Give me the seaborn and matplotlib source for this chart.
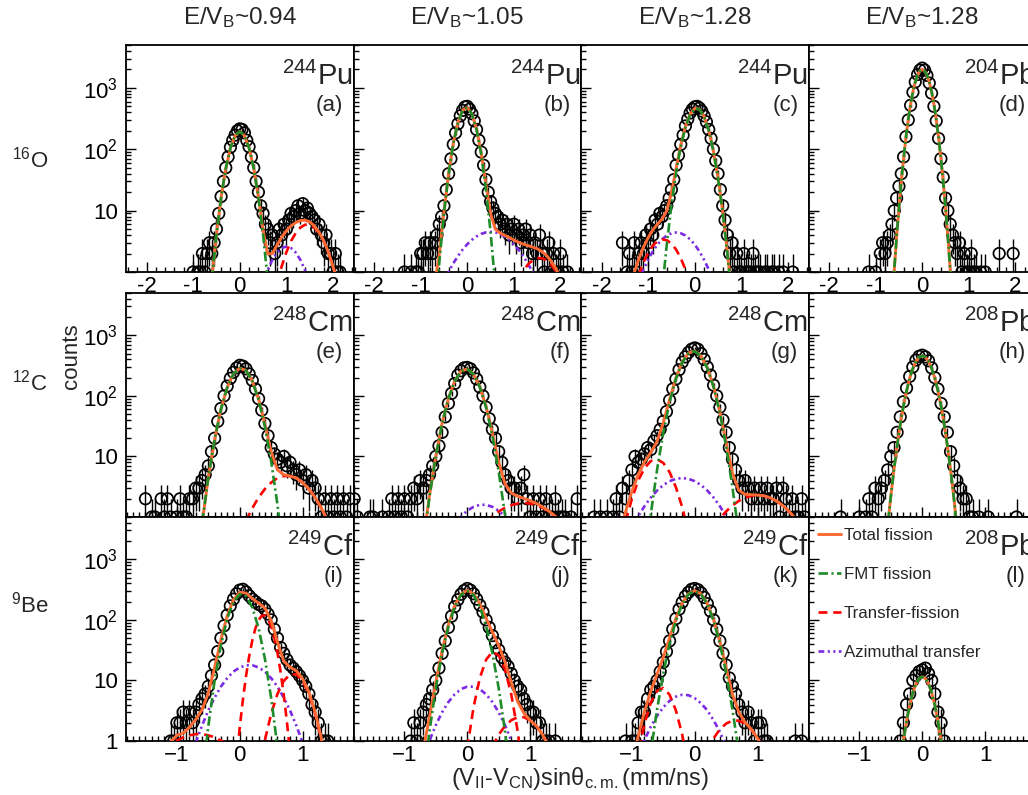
import numpy as np
import matplotlib
matplotlib.use("Agg")
import matplotlib.pyplot as plt
import seaborn as sns
from matplotlib.lines import Line2D
from matplotlib.ticker import FixedLocator, MultipleLocator, LogLocator, NullFormatter, FixedFormatter

# ---------------------------------------------------------------- data
# common velocity bins (mm/ns)
X_BINS = [-1.80, -1.75, -1.70, -1.65, -1.60, -1.55, -1.50, -1.45, -1.40, -1.35,
          -1.30, -1.25, -1.20, -1.15, -1.10, -1.05, -1.00, -0.95, -0.90, -0.85,
          -0.80, -0.75, -0.70, -0.65, -0.60, -0.55, -0.50, -0.45, -0.40, -0.35,
          -0.30, -0.25, -0.20, -0.15, -0.10, -0.05, 0.00, 0.05, 0.10, 0.15,
          0.20, 0.25, 0.30, 0.35, 0.40, 0.45, 0.50, 0.55, 0.60, 0.65,
          0.70, 0.75, 0.80, 0.85, 0.90, 0.95, 1.00, 1.05, 1.10, 1.15,
          1.20, 1.25, 1.30, 1.35, 1.40, 1.45, 1.50, 1.55, 1.60, 1.65,
          1.70, 1.75, 1.80, 1.85, 1.90, 1.95, 2.00, 2.05, 2.10, 2.15,
          2.20]

COUNTS_A = [0, 0, 0, 0, 0, 0, 0, 0, 0, 0,
            0, 0, 0, 0, 0, 0, 1, 0, 1, 1,
            2, 1, 2, 3, 2, 3, 5, 9, 17, 30,
            50, 75, 108, 140, 170, 200, 215, 210, 185, 140,
            110, 75, 50, 30, 20, 12, 9, 6, 5, 3,
            4, 2, 3, 5, 4, 6, 5, 7, 9, 8,
            10, 12, 9, 13, 10, 11, 9, 8, 7, 5,
            6, 4, 3, 4, 2, 2, 1, 2, 1, 1,
            0]
COUNTS_B = [0, 0, 0, 0, 0, 0, 0, 0, 0, 1,
            0, 0, 1, 0, 1, 1, 2, 2, 3, 2,
            3, 2, 3, 4, 6, 8, 12, 22, 40, 70,
            120, 185, 260, 350, 430, 490, 500, 450, 380, 290,
            210, 140, 90, 55, 32, 20, 14, 11, 9, 8,
            6, 7, 5, 6, 4, 5, 6, 4, 5, 3,
            4, 5, 3, 4, 2, 3, 2, 4, 2, 1,
            2, 3, 1, 2, 1, 1, 2, 1, 0, 1,
            0]
COUNTS_C = [0, 0, 0, 0, 0, 3, 0, 1, 2, 1,
            3, 1, 2, 3, 2, 4, 3, 5, 4, 7,
            6, 9, 8, 10, 12, 16, 22, 32, 55, 80,
            120, 170, 240, 310, 390, 450, 490, 500, 470, 420,
            350, 280, 210, 150, 100, 65, 40, 22, 12, 7,
            4, 2, 3, 1, 2, 1, 1, 2, 1, 1,
            1, 2, 1, 1, 1, 0, 1, 1, 0, 1,
            1, 0, 1, 0, 1, 0, 0, 0, 1, 0,
            0]
COUNTS_D = [0, 0, 0, 0, 0, 0, 0, 0, 0, 0,
            0, 0, 0, 1, 0, 0, 1, 0, 2, 3,
            2, 3, 4, 6, 10, 16, 25, 40, 75, 160,
            300, 520, 850, 1250, 1650, 1950, 2100, 1950, 1600, 1200,
            820, 500, 290, 150, 70, 35, 16, 10, 6, 4,
            3, 2, 3, 1, 2, 1, 1, 2, 1, 1,
            0, 1, 0, 1, 0, 0, 0, 0, 0, 2,
            0, 0, 0, 0, 0, 2, 0, 0, 0, 0,
            0]
COUNTS_E = [0, 0, 0, 0, 0, 0, 2, 0, 1, 1,
            0, 2, 1, 2, 1, 0, 1, 2, 1, 1,
            2, 2, 3, 3, 4, 5, 7, 12, 20, 38,
            62, 100, 145, 195, 245, 290, 320, 310, 280, 230,
            180, 130, 90, 58, 35, 22, 14, 11, 9, 8,
            10, 7, 8, 6, 5, 6, 4, 5, 3, 4,
            3, 2, 1, 2, 1, 2, 1, 2, 1, 2,
            1, 2, 0, 0, 0, 0, 0, 0, 0, 0,
            0]
COUNTS_F = [2, 1, 0, 0, 0, 1, 1, 0, 0, 1,
            0, 1, 2, 1, 2, 1, 2, 1, 2, 3,
            2, 4, 3, 4, 5, 7, 10, 15, 25, 45,
            75, 110, 160, 220, 260, 290, 295, 280, 240, 190,
            140, 100, 65, 42, 28, 20, 12, 8, 5, 4,
            3, 3, 2, 3, 5, 2, 1, 2, 1, 2,
            1, 2, 1, 1, 2, 1, 1, 1, 0, 1,
            0, 2, 0, 0, 0, 0, 0, 0, 0, 0,
            0]
COUNTS_G = [0, 0, 0, 0, 1, 0, 1, 0, 1, 0,
            1, 2, 1, 3, 2, 4, 6, 10, 8, 9,
            11, 14, 13, 18, 22, 28, 38, 55, 85, 130,
            190, 270, 360, 440, 520, 590, 620, 590, 500, 400,
            300, 220, 150, 100, 65, 40, 25, 14, 9, 6,
            4, 3, 4, 3, 2, 3, 2, 3, 2, 3,
            2, 2, 3, 1, 3, 2, 1, 2, 1, 1,
            2, 1, 0, 0, 0, 0, 0, 0, 0, 0,
            0]
COUNTS_H = [0, 0, 0, 0, 0, 0, 0, 0, 0, 0,
            1, 0, 0, 0, 0, 0, 1, 0, 1, 2,
            1, 3, 2, 3, 4, 6, 10, 14, 25, 45,
            80, 135, 210, 300, 390, 450, 470, 440, 380, 290,
            200, 130, 75, 45, 25, 12, 7, 4, 3, 2,
            2, 1, 1, 0, 1, 0, 0, 1, 0, 0,
            0, 0, 0, 0, 0, 0, 1, 0, 0, 0,
            0, 0, 0, 0, 0, 0, 0, 0, 0, 0,
            0]
COUNTS_I = [0, 0, 0, 0, 0, 0, 0, 0, 0, 0,
            0, 0, 0, 0, 1, 1, 2, 2, 3, 2,
            3, 2, 3, 4, 5, 6, 8, 12, 18, 30,
            50, 80, 120, 170, 220, 270, 310, 320, 290, 250,
            220, 200, 180, 170, 150, 125, 100, 70, 50, 35,
            28, 22, 18, 16, 14, 12, 10, 8, 6, 4,
            3, 2, 1, 1, 1, 0, 0, 0, 0, 0,
            0, 0, 0, 0, 0, 0, 0, 0, 0, 0,
            0]
COUNTS_J = [0, 0, 0, 0, 0, 0, 0, 0, 0, 0,
            0, 0, 0, 0, 0, 0, 0, 0, 1, 2,
            1, 2, 3, 4, 5, 7, 10, 16, 28, 45,
            75, 115, 165, 215, 265, 305, 330, 310, 270, 220,
            175, 135, 100, 75, 55, 42, 32, 24, 20, 17,
            13, 10, 8, 7, 5, 4, 3, 3, 2, 2,
            1, 1, 1, 0, 1, 0, 0, 0, 0, 0,
            0, 0, 0, 0, 0, 0, 0, 0, 0, 0,
            0]
COUNTS_K = [0, 0, 0, 0, 0, 0, 0, 0, 0, 0,
            0, 0, 0, 0, 1, 0, 1, 1, 2, 3,
            3, 5, 7, 8, 10, 14, 20, 30, 45, 70,
            105, 150, 195, 245, 285, 320, 330, 315, 280, 235,
            185, 140, 100, 70, 45, 28, 18, 11, 8, 6,
            4, 3, 2, 3, 2, 1, 2, 2, 1, 1,
            0, 0, 0, 0, 0, 0, 0, 0, 1, 0,
            1, 0, 0, 0, 0, 0, 0, 0, 0, 0,
            0]
COUNTS_L = [0, 0, 0, 0, 0, 0, 0, 0, 0, 0,
            0, 0, 0, 0, 0, 0, 0, 0, 0, 0,
            0, 0, 0, 0, 0, 0, 0, 0, 0, 1,
            2, 4, 6, 10, 12, 14, 15, 16, 13, 10,
            6, 3, 2, 1, 0, 0, 0, 0, 0, 0,
            0, 0, 0, 0, 0, 0, 0, 0, 0, 0,
            0, 0, 0, 0, 0, 0, 0, 0, 0, 0,
            0, 0, 0, 0, 0, 0, 0, 0, 0, 0,
            0]

# fitted components, (velocity, counts)
TOT_A = [(-0.6, 0.75), (-0.5, 4.1), (-0.4, 16.5), (-0.3, 48.6), (-0.2, 105), (-0.1, 167), (0.0, 195),
         (0.1, 167), (0.2, 105), (0.3, 48.6), (0.4, 16.7), (0.5, 4.8), (0.6, 1.96), (0.7, 2.0),
         (0.8, 2.74), (0.9, 3.7), (1.0, 4.7), (1.1, 5.66), (1.2, 6.38), (1.3, 6.9), (1.4, 7.0),
         (1.5, 6.55), (1.6, 5.65), (1.7, 4.46), (1.8, 3.25), (1.9, 2.1), (2.0, 1.24), (2.1, 0.66)]
FMT_A = [(-0.6, 0.75), (-0.5, 4.1), (-0.4, 16.5), (-0.3, 48.6), (-0.2, 105), (-0.1, 167), (0.0, 195),
         (0.1, 167), (0.2, 105), (0.3, 48.6), (0.4, 16.5), (0.5, 4.1), (0.6, 0.75)]
TR_A = [(0.8, 0.66), (0.9, 1.24), (1.0, 2.1), (1.1, 3.2), (1.2, 4.3), (1.3, 5.3), (1.4, 5.9),
        (1.5, 5.9), (1.6, 5.3), (1.7, 4.3), (1.8, 3.2), (1.9, 2.1), (2.0, 1.24), (2.1, 0.66)]
AZ_A = [(0.5, 0.65), (0.6, 1.07), (0.7, 1.58), (0.8, 2.08), (0.9, 2.46), (1.0, 2.6), (1.1, 2.46),
        (1.2, 2.08), (1.3, 1.58), (1.4, 1.07), (1.5, 0.65)]

TOT_B = [(-0.7, 0.66), (-0.6, 1.9), (-0.5, 9.6), (-0.4, 40.4), (-0.3, 125), (-0.2, 276), (-0.1, 432),
         (0.0, 480), (0.1, 377), (0.2, 212), (0.3, 86), (0.4, 27), (0.5, 9.0), (0.6, 5.0), (0.7, 4.33),
         (0.8, 3.97), (0.9, 3.65), (1.0, 3.33), (1.1, 3.05), (1.2, 2.85), (1.3, 2.7), (1.4, 2.55),
         (1.5, 2.4), (1.6, 2.16), (1.7, 1.86), (1.8, 1.5), (1.9, 1.14), (2.0, 0.8), (2.1, 0.5)]
FMT_B = [(-0.7, 0.16), (-0.6, 1.43), (-0.5, 8.9), (-0.4, 39.4), (-0.3, 124), (-0.2, 274), (-0.1, 430),
         (0.0, 477), (0.1, 374), (0.2, 208), (0.3, 82), (0.4, 22.7), (0.5, 4.5), (0.6, 0.62)]
AZ_B = [(-0.5, 0.71), (-0.4, 1.0), (-0.3, 1.38), (-0.2, 1.82), (-0.1, 2.31), (0.0, 2.83), (0.1, 3.35),
        (0.2, 3.8), (0.3, 4.18), (0.4, 4.42), (0.5, 4.5), (0.6, 4.42), (0.7, 4.18), (0.8, 3.8),
        (0.9, 3.35), (1.0, 2.83), (1.1, 2.31), (1.2, 1.82), (1.3, 1.38), (1.4, 1.0), (1.5, 0.71)]
TR_B = [(1.1, 0.74), (1.2, 1.03), (1.3, 1.32), (1.4, 1.55), (1.5, 1.68), (1.6, 1.68), (1.7, 1.55),
        (1.8, 1.32), (1.9, 1.03), (2.0, 0.74)]

TOT_C = [(-1.4, 0.53), (-1.3, 0.97), (-1.2, 1.63), (-1.1, 2.54), (-1.0, 3.64), (-0.9, 4.86), (-0.8, 6.0),
         (-0.7, 7.3), (-0.6, 10.0), (-0.5, 19.5), (-0.4, 48.5), (-0.3, 117), (-0.2, 234), (-0.1, 372),
         (0.0, 464), (0.1, 451), (0.2, 343), (0.3, 203), (0.4, 94), (0.5, 33.8), (0.6, 9.6), (0.7, 2.1),
         (0.8, 0.4)]
FMT_C = [(-0.8, 0.07), (-0.7, 0.5), (-0.6, 2.8), (-0.5, 12.3), (-0.4, 41.8), (-0.3, 111), (-0.2, 229),
         (-0.1, 368), (0.0, 461), (0.1, 449), (0.2, 341), (0.3, 202), (0.4, 93), (0.5, 33.3), (0.6, 9.3),
         (0.7, 2.0), (0.8, 0.34)]
TR_C = [(-1.3, 0.52), (-1.2, 0.91), (-1.1, 1.44), (-1.0, 2.06), (-0.9, 2.69), (-0.8, 3.17), (-0.7, 3.4),
        (-0.6, 3.3), (-0.5, 2.9), (-0.4, 2.32), (-0.3, 1.68), (-0.2, 1.1), (-0.1, 0.66)]
AZ_C = [(-1.3, 0.45), (-1.2, 0.72), (-1.1, 1.1), (-1.0, 1.58), (-0.9, 2.17), (-0.8, 2.8), (-0.7, 3.41),
        (-0.6, 3.93), (-0.5, 4.28), (-0.4, 4.4), (-0.3, 4.28), (-0.2, 3.93), (-0.1, 3.41), (0.0, 2.8),
        (0.1, 2.17), (0.2, 1.58), (0.3, 1.1), (0.4, 0.72), (0.5, 0.45)]

FMT_D = [(-0.65, 0.3), (-0.6, 1.1), (-0.55, 3.7), (-0.5, 11), (-0.45, 29.4), (-0.4, 71), (-0.35, 156),
         (-0.3, 307), (-0.25, 544), (-0.2, 869), (-0.15, 1251), (-0.1, 1624), (-0.05, 1898), (0.0, 2000),
         (0.05, 1898), (0.1, 1624), (0.15, 1251), (0.2, 869), (0.25, 544), (0.3, 307), (0.35, 156),
         (0.4, 71), (0.45, 29.4), (0.5, 11), (0.55, 3.7), (0.6, 1.1), (0.65, 0.3)]

TOT_E = [(-0.7, 0.1), (-0.6, 0.77), (-0.5, 4.5), (-0.4, 19), (-0.3, 60), (-0.2, 137), (-0.1, 232),
         (0.0, 287), (0.1, 263), (0.2, 177), (0.3, 88), (0.4, 34), (0.5, 12), (0.6, 6.0), (0.7, 5.0),
         (0.8, 4.75), (0.9, 4.4), (1.0, 3.7), (1.1, 2.9), (1.2, 2.1), (1.3, 1.4), (1.4, 0.86)]
FMT_E = [(-0.7, 0.1), (-0.6, 0.77), (-0.5, 4.5), (-0.4, 19), (-0.3, 60), (-0.2, 137), (-0.1, 232),
         (0.0, 287), (0.1, 262), (0.2, 176), (0.3, 86), (0.4, 31), (0.5, 8.3), (0.6, 1.6), (0.7, 0.23)]
TR_E = [(0.1, 0.86), (0.2, 1.4), (0.3, 2.1), (0.4, 2.9), (0.5, 3.7), (0.6, 4.4), (0.7, 4.75),
        (0.8, 4.75), (0.9, 4.4), (1.0, 3.7), (1.1, 2.9), (1.2, 2.1), (1.3, 1.4), (1.4, 0.86)]

TOT_F = [(-0.7, 0.41), (-0.6, 2.3), (-0.5, 10.2), (-0.4, 35.4), (-0.3, 90.5), (-0.2, 176), (-0.1, 256),
         (0.0, 279), (0.1, 228), (0.2, 141), (0.3, 66.4), (0.4, 24.5), (0.5, 8.1), (0.6, 3.54),
         (0.7, 2.49), (0.8, 2.2), (0.9, 2.03), (1.0, 1.86), (1.1, 1.67), (1.2, 1.47), (1.3, 1.25),
         (1.4, 1.03), (1.5, 0.83), (1.6, 0.64)]
FMT_F = [(-0.7, 0.35), (-0.6, 2.2), (-0.5, 10), (-0.4, 35), (-0.3, 90), (-0.2, 175), (-0.1, 255),
         (0.0, 278), (0.1, 227), (0.2, 139), (0.3, 64), (0.4, 22), (0.5, 5.6), (0.6, 1.1), (0.7, 0.16)]
AZ_F = [(-0.2, 0.76), (-0.1, 1.02), (0.0, 1.27), (0.1, 1.47), (0.2, 1.59), (0.3, 1.59), (0.4, 1.47),
        (0.5, 1.27), (0.6, 1.02), (0.7, 0.76)]
TR_F = [(0.3, 0.83), (0.4, 1.03), (0.5, 1.23), (0.6, 1.42), (0.7, 1.57), (0.8, 1.67), (0.9, 1.7),
        (1.0, 1.67), (1.1, 1.57), (1.2, 1.42), (1.3, 1.23), (1.4, 1.03), (1.5, 0.83), (1.6, 0.64)]

TOT_G = [(-1.2, 0.5), (-1.1, 1.23), (-1.0, 2.66), (-0.9, 5.0), (-0.8, 8.1), (-0.7, 11.6), (-0.6, 17.7),
         (-0.5, 36), (-0.4, 88), (-0.3, 199), (-0.2, 362), (-0.1, 510), (0.0, 551), (0.1, 456),
         (0.2, 290), (0.3, 142), (0.4, 54.5), (0.5, 16.9), (0.6, 5.3), (0.7, 2.76), (0.8, 2.37),
         (0.9, 2.34), (1.0, 2.3), (1.1, 2.24), (1.2, 2.08), (1.3, 1.84), (1.4, 1.55), (1.5, 1.24),
         (1.6, 0.95), (1.7, 0.69)]
FMT_G = [(-0.8, 0.16), (-0.7, 1.1), (-0.6, 6.0), (-0.5, 25), (-0.4, 79), (-0.3, 192), (-0.2, 356),
         (-0.1, 505), (0.0, 547), (0.1, 453), (0.2, 287), (0.3, 139), (0.4, 52), (0.5, 14.6), (0.6, 3.1),
         (0.7, 0.52), (0.8, 0.07)]
TR1_G = [(-1.2, 0.28), (-1.1, 0.83), (-1.0, 2.0), (-0.9, 4.0), (-0.8, 6.4), (-0.7, 8.4), (-0.6, 9.0),
         (-0.5, 7.8), (-0.4, 5.5), (-0.3, 3.1), (-0.2, 1.46), (-0.1, 0.55)]
TR2_G = [(0.3, 0.69), (0.4, 0.95), (0.5, 1.24), (0.6, 1.55), (0.7, 1.84), (0.8, 2.08), (0.9, 2.24),
         (1.0, 2.3), (1.1, 2.24), (1.2, 2.08), (1.3, 1.84), (1.4, 1.55), (1.5, 1.24), (1.6, 0.95),
         (1.7, 0.69)]
AZ_G = [(-1.0, 0.66), (-0.9, 1.02), (-0.8, 1.51), (-0.7, 2.09), (-0.6, 2.73), (-0.5, 3.37), (-0.4, 3.9),
        (-0.3, 4.27), (-0.2, 4.4), (-0.1, 4.27), (0.0, 3.9), (0.1, 3.37), (0.2, 2.73), (0.3, 2.09),
        (0.4, 1.51), (0.5, 1.02), (0.6, 0.66)]

FMT_H = [(-0.6, 0.21), (-0.55, 0.72), (-0.5, 2.2), (-0.45, 6.1), (-0.4, 15), (-0.35, 33.5), (-0.3, 67),
         (-0.25, 121), (-0.2, 196), (-0.15, 284), (-0.1, 371), (-0.05, 436), (0.0, 460), (0.05, 436),
         (0.1, 371), (0.15, 284), (0.2, 196), (0.25, 121), (0.3, 67), (0.35, 33.5), (0.4, 15),
         (0.45, 6.1), (0.5, 2.2), (0.55, 0.72), (0.6, 0.21)]

TOT_I = [(-1.2, 0.8), (-1.1, 0.97), (-1.0, 1.24), (-0.9, 1.35), (-0.8, 1.69), (-0.7, 2.26), (-0.6, 3.3),
         (-0.5, 6.2), (-0.4, 16.3), (-0.3, 47), (-0.2, 117), (-0.1, 215), (0.0, 285), (0.1, 277),
         (0.2, 225), (0.3, 189), (0.4, 157), (0.5, 97), (0.6, 43), (0.7, 20.8), (0.8, 16.5), (0.9, 14.4),
         (1.0, 10.7), (1.1, 6.45), (1.2, 3.0), (1.3, 1.1), (1.4, 0.33)]
FMT_I = [(-0.6, 0.22), (-0.5, 1.76), (-0.4, 9.9), (-0.3, 38), (-0.2, 105), (-0.1, 200), (0.0, 266),
         (0.1, 247), (0.2, 161), (0.3, 73), (0.4, 23), (0.5, 5.1), (0.6, 0.8), (0.7, 0.09)]
TR1_I = [(-0.1, 0.13), (-0.05, 0.5), (0.0, 1.68), (0.05, 4.8), (0.1, 11.8), (0.15, 25), (0.2, 46),
         (0.25, 73), (0.3, 99), (0.35, 117), (0.4, 119), (0.45, 104), (0.5, 78), (0.55, 51),
         (0.6, 28.7), (0.65, 13.9), (0.7, 5.8), (0.75, 2.1), (0.8, 0.65), (0.85, 0.17)]
TR2_I = [(0.4, 1.04), (0.5, 2.8), (0.6, 6.0), (0.7, 9.8), (0.8, 12.6), (0.9, 12.6), (1.0, 9.8),
         (1.1, 6.0), (1.2, 2.8), (1.3, 1.04), (1.4, 0.29)]
TR3_I = [(-1.2, 0.71), (-1.1, 0.87), (-1.0, 1.02), (-0.9, 1.15), (-0.8, 1.24), (-0.7, 1.3), (-0.6, 1.3),
         (-0.5, 1.24), (-0.4, 1.15), (-0.3, 1.02), (-0.2, 0.87), (-0.1, 0.71)]
AZ_I = [(-0.8, 0.45), (-0.7, 0.94), (-0.6, 1.8), (-0.5, 3.2), (-0.4, 5.2), (-0.3, 7.9), (-0.2, 10.9),
        (-0.1, 14), (0.0, 16.4), (0.1, 17.8), (0.2, 17.8), (0.3, 16.4), (0.4, 14), (0.5, 10.9),
        (0.6, 7.9), (0.7, 5.2), (0.8, 3.2), (0.9, 1.8), (1.0, 0.94), (1.1, 0.45)]

TOT_J = [(-0.8, 0.25), (-0.7, 0.73), (-0.6, 2.5), (-0.5, 9.3), (-0.4, 31.3), (-0.3, 83.4), (-0.2, 172),
         (-0.1, 266), (0.0, 309), (0.1, 270), (0.2, 184), (0.3, 107), (0.4, 63), (0.5, 37.8), (0.6, 20.4),
         (0.7, 9.3), (0.8, 4.5), (0.9, 2.9), (1.0, 2.2), (1.1, 1.77), (1.2, 1.27), (1.3, 0.81), (1.4, 0.46)]
FMT_J = [(-0.7, 0.22), (-0.6, 1.47), (-0.5, 7.5), (-0.4, 28.3), (-0.3, 79), (-0.2, 166), (-0.1, 259),
         (0.0, 300), (0.1, 259), (0.2, 166), (0.3, 79), (0.4, 28.3), (0.5, 7.5), (0.6, 1.47), (0.7, 0.22)]
TR1_J = [(0.0, 0.76), (0.1, 3.6), (0.2, 11), (0.3, 22), (0.4, 29.8), (0.5, 26), (0.6, 15.3), (0.7, 5.9),
         (0.8, 1.5), (0.9, 0.25)]
TR2_J = [(0.4, 0.81), (0.5, 1.27), (0.6, 1.77), (0.7, 2.2), (0.8, 2.47), (0.9, 2.47), (1.0, 2.2),
         (1.1, 1.77), (1.2, 1.27), (1.3, 0.81), (1.4, 0.46)]
AZ_J = [(-0.7, 0.51), (-0.6, 1.02), (-0.5, 1.83), (-0.4, 2.98), (-0.3, 4.4), (-0.2, 5.9), (-0.1, 7.2),
        (0.0, 7.9), (0.1, 7.9), (0.2, 7.2), (0.3, 5.9), (0.4, 4.4), (0.5, 2.98), (0.6, 1.83),
        (0.7, 1.02), (0.8, 0.51)]

TOT_K = [(-1.0, 0.43), (-0.9, 1.2), (-0.8, 3.04), (-0.7, 6.7), (-0.6, 12.6), (-0.5, 24.3), (-0.4, 51),
         (-0.3, 106), (-0.2, 189), (-0.1, 271), (0.0, 305), (0.1, 270), (0.2, 186), (0.3, 100),
         (0.4, 43.6), (0.5, 16), (0.6, 5.9), (0.7, 3.0), (0.8, 2.04), (0.9, 1.56), (1.0, 1.11), (1.1, 0.71)]
FMT_K = [(-0.8, 0.1), (-0.7, 0.66), (-0.6, 3.3), (-0.5, 13.2), (-0.4, 40.6), (-0.3, 97), (-0.2, 182),
         (-0.1, 265), (0.0, 300), (0.1, 265), (0.2, 182), (0.3, 97), (0.4, 40.6), (0.5, 13.2), (0.6, 3.3),
         (0.7, 0.66), (0.8, 0.1)]
TR1_K = [(-1.0, 0.14), (-0.9, 0.62), (-0.8, 1.9), (-0.7, 4.3), (-0.6, 6.7), (-0.5, 7.5), (-0.4, 5.8),
         (-0.3, 3.2), (-0.2, 1.28), (-0.1, 0.36)]
TR2_K = [(0.1, 0.41), (0.2, 0.71), (0.3, 1.11), (0.4, 1.56), (0.5, 1.94), (0.6, 2.17), (0.7, 2.17),
         (0.8, 1.94), (0.9, 1.56), (1.0, 1.11), (1.1, 0.71), (1.2, 0.41)]
AZ_K = [(-0.9, 0.58), (-0.8, 1.04), (-0.7, 1.72), (-0.6, 2.6), (-0.5, 3.6), (-0.4, 4.6), (-0.3, 5.4),
        (-0.2, 5.8), (-0.1, 5.7), (0.0, 5.1), (0.1, 4.2), (0.2, 3.2), (0.3, 2.2), (0.4, 1.42),
        (0.5, 0.83), (0.6, 0.44)]

FMT_L = [(-0.4, 0.15), (-0.35, 0.42), (-0.3, 1.0), (-0.25, 2.1), (-0.2, 3.9), (-0.15, 6.3), (-0.1, 8.8),
         (-0.05, 10.8), (0.0, 11.5), (0.05, 10.8), (0.1, 8.8), (0.15, 6.3), (0.2, 3.9), (0.25, 2.1),
         (0.3, 1.0), (0.35, 0.42), (0.4, 0.15)]

COLUMN_TITLES = ["0.94", "1.05", "1.28", "1.28"]
ROW_PROJECTILES = [("16", "O"), ("12", "C"), ("9", "Be")]
PANEL_TAGS = ["(a)", "(b)", "(c)", "(d)", "(e)", "(f)", "(g)", "(h)", "(i)", "(j)", "(k)", "(l)"]
TARGETS = [("244", "Pu"), ("244", "Pu"), ("244", "Pu"), ("204", "Pb"),
           ("248", "Cm"), ("248", "Cm"), ("248", "Cm"), ("208", "Pb"),
           ("249", "Cf"), ("249", "Cf"), ("249", "Cf"), ("208", "Pb")]
LEGEND_LABELS = ["Total fission", "FMT fission", "Transfer-fission", "Azimuthal transfer"]

PANEL_COUNTS = [COUNTS_A, COUNTS_B, COUNTS_C, COUNTS_D, COUNTS_E, COUNTS_F,
                COUNTS_G, COUNTS_H, COUNTS_I, COUNTS_J, COUNTS_K, COUNTS_L]
PANEL_CURVES = [
    [("az", AZ_A), ("tr", TR_A), ("tot", TOT_A), ("fmt", FMT_A)],
    [("az", AZ_B), ("tr", TR_B), ("tot", TOT_B), ("fmt", FMT_B)],
    [("az", AZ_C), ("tr", TR_C), ("tot", TOT_C), ("fmt", FMT_C)],
    [("tot", FMT_D), ("fmt", FMT_D)],
    [("tr", TR_E), ("tot", TOT_E), ("fmt", FMT_E)],
    [("az", AZ_F), ("tr", TR_F), ("tot", TOT_F), ("fmt", FMT_F)],
    [("az", AZ_G), ("tr", TR1_G), ("tr", TR2_G), ("tot", TOT_G), ("fmt", FMT_G)],
    [("tot", FMT_H), ("fmt", FMT_H)],
    [("az", AZ_I), ("tr", TR1_I), ("tr", TR2_I), ("tr", TR3_I), ("tot", TOT_I), ("fmt", FMT_I)],
    [("az", AZ_J), ("tr", TR1_J), ("tr", TR2_J), ("tot", TOT_J), ("fmt", FMT_J)],
    [("az", AZ_K), ("tr", TR1_K), ("tr", TR2_K), ("tot", TOT_K), ("fmt", FMT_K)],
    [("tot", FMT_L), ("fmt", FMT_L)],
]

# ---------------------------------------------------------------- style
sns.set_theme(style="ticks")
plt.rcParams["font.family"] = ["Liberation Sans", "DejaVu Sans"]
plt.rcParams["mathtext.fontset"] = "custom"
plt.rcParams["mathtext.rm"] = "Liberation Sans"
plt.rcParams["mathtext.it"] = "Liberation Sans:italic"
plt.rcParams["mathtext.bf"] = "Liberation Sans:bold"
plt.rcParams["mathtext.default"] = "regular"

LINE_STYLE = {
    "tot": dict(color="#FF6A33", linewidth=2.1, linestyle="-", zorder=6),
    "fmt": dict(color="#1E8C28", linewidth=1.9, linestyle=(0, (3.6, 1.3, 0.8, 1.3)), zorder=7),
    "tr": dict(color="#FF0000", linewidth=1.9, linestyle=(0, (3.4, 2.2)), zorder=5),
    "az": dict(color="#7B2BE2", linewidth=1.9, linestyle=(0, (2.2, 1.3, 0.8, 1.3, 0.8, 1.3)), zorder=4),
}

W, H = 1028, 795
fig = plt.figure(figsize=(W / 100, H / 100), dpi=100)

col_left = [126, 353.5, 581, 808.5]
col_width = 227.5
row_top = [45, 293, 517]
row_bottom = [272, 517, 741]

x = np.array(X_BINS)
for idx in range(12):
    row, col = divmod(idx, 4)
    ax = fig.add_axes([col_left[col] / W, 1 - row_bottom[row] / H,
                       col_width / W, (row_bottom[row] - row_top[row]) / H])
    ax.set_yscale("log")

    counts = np.array(PANEL_COUNTS[idx], dtype=float)
    m = counts > 0
    xv, yv = x[m], counts[m]
    err = np.sqrt(yv)
    lower = np.minimum(err, yv - 0.3)
    ax.errorbar(xv, yv, yerr=[lower, err], fmt="none", ecolor="black",
                elinewidth=1.0, capsize=0, zorder=2)
    sns.scatterplot(x=xv, y=yv, ax=ax, marker="o", s=68, facecolor="none",
                    edgecolor="black", linewidth=1.25, zorder=3, legend=False)

    for kind, pts in PANEL_CURVES[idx]:
        st = LINE_STYLE[kind]
        sns.lineplot(x=[p[0] for p in pts], y=[p[1] for p in pts], ax=ax,
                     sort=False, estimator=None, errorbar=None, legend=False, **st)

    # axes ranges and ticks
    ax.set_ylim(1, 5000)
    if row == 0:
        ax.set_xlim(-2.44, 2.44)
        ax.xaxis.set_major_locator(FixedLocator([-2, -1, 0, 1, 2]))
        ax.xaxis.set_major_formatter(FixedFormatter(["-2", "-1", "0", "1", "2"]))
        ax.xaxis.set_minor_locator(MultipleLocator(0.2))
    else:
        ax.set_xlim(-1.81, 1.81)
        ax.xaxis.set_major_locator(FixedLocator([-1, 0, 1]))
        if row == 2:
            ax.xaxis.set_major_formatter(FixedFormatter(["\u22121", "0", "1"]))
        else:
            ax.xaxis.set_major_formatter(NullFormatter())
        ax.xaxis.set_minor_locator(MultipleLocator(0.1))
    ax.xaxis.set_minor_formatter(NullFormatter())

    ax.yaxis.set_major_locator(FixedLocator([1, 10, 100, 1000]))
    ax.yaxis.set_minor_locator(LogLocator(base=10, subs=np.arange(2, 10), numticks=20))
    ax.yaxis.set_minor_formatter(NullFormatter())
    if col == 0:
        ax.yaxis.set_major_formatter(FixedFormatter(
            ["1" if row == 2 else "", "10", "10$^2$", "10$^3$"]))
    else:
        ax.yaxis.set_major_formatter(NullFormatter())

    ax.set_xlabel("")
    ax.set_ylabel("")
    ax.tick_params(which="both", direction="in", top=False, right=False,
                   bottom=True, left=True, colors="black", width=1.0, labelsize=16)
    ax.tick_params(which="major", length=7)
    ax.tick_params(which="minor", length=3.5)
    ax.tick_params(axis="x", pad=3)
    ax.tick_params(axis="y", pad=6)
    for sp in ax.spines.values():
        sp.set_visible(True)
        sp.set_color("black")
        sp.set_linewidth(1.3)

    mass, elem = TARGETS[idx]
    ax.text(0.997, 0.825, "$^{%s}$%s" % (mass, elem), transform=ax.transAxes,
            ha="right", va="baseline", fontsize=21)
    ax.text(0.955, 0.71, PANEL_TAGS[idx], transform=ax.transAxes,
            ha="right", va="baseline", fontsize=16)

    if idx == 11:
        handles = [Line2D([], [], **{k: v for k, v in LINE_STYLE[key].items() if k != "zorder"})
                   for key in ("tot", "fmt", "tr", "az")]
        ax.legend(handles, LEGEND_LABELS, loc="upper left", bbox_to_anchor=(0.04, 0.95),
                  frameon=False, fontsize=12.2, handlelength=1.4, handletextpad=0.15,
                  labelspacing=1.42, borderaxespad=0, borderpad=0)

# column headings
for col, energy in enumerate(COLUMN_TITLES):
    cx = (col_left[col] + col_width / 2) / W
    fig.text(cx, 1 - 18 / H, "E/V$_{B}$~" + energy, ha="center", va="center", fontsize=17.5)

# projectile labels
for row, (mass, elem) in enumerate(ROW_PROJECTILES):
    cy = [160, 383, 605][row]
    fig.text(30 / W, 1 - cy / H, "$^{%s}$%s" % (mass, elem), ha="center", va="center", fontsize=16)

fig.text(71 / W, 1 - 356 / H, "counts", rotation=90, ha="center", va="center", fontsize=16)
fig.text(580 / W, 1 - 779 / H, "(V$_{II}$-V$_{CN}$)sin\u03b8$_{c.m.}$(mm/ns)",
         ha="center", va="center", fontsize=17)

fig.savefig("out.png", dpi=100)
